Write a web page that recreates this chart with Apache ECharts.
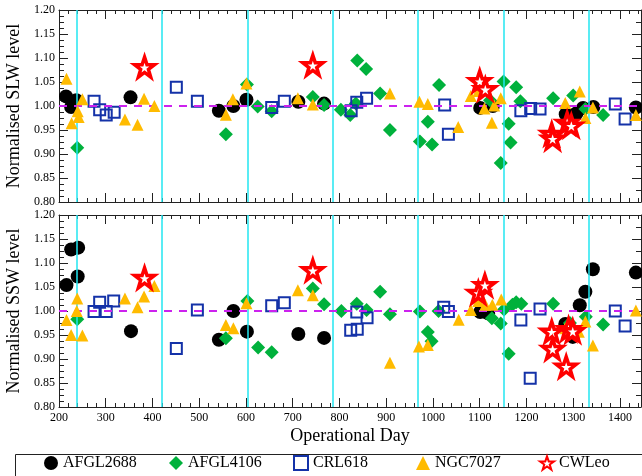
<!DOCTYPE html>
<html><head><meta charset="utf-8">
<script src="https://cdn.jsdelivr.net/npm/echarts@6/dist/echarts.min.js"></script>
<style>html,body{margin:0;padding:0;background:#fff}#c{width:642px;height:476px}</style>
</head><body><div id="c"></div>
<script>
// ---------- data ----------
const sources = ['AFGL2688', 'AFGL4106', 'CRL618', 'NGC7027', 'CWLeo'];
const calibrationDays = [237, 420, 603, 785, 968, 1151, 1334];
const referenceLevel = 1.0;
const xRange = [200, 1445];
const yRange = [0.80, 1.20];

const slw_AFGL2688 = [[215,1.020],[226,0.998],[237,1.012],[353,1.018],[542,0.990],[573,1.000],[601,1.013],[712,1.009],[767,1.005],[1101,0.996],[1128,1.000],[1284,0.983],[1307,0.985],[1321,0.996],[1343,0.998],[1434,0.997]];
const slw_AFGL4106 = [[239,0.913],[557,0.941],[602,1.045],[625,0.999],[655,0.989],[743,1.019],[767,1.002],[803,0.992],[823,0.981],[835,1.005],[838,1.095],[857,1.077],[887,1.026],[908,0.950],[972,0.926],[989,0.967],[998,0.920],[1013,1.044],[1122,1.012],[1145,0.881],[1151,1.051],[1162,0.963],[1166,0.924],[1178,1.039],[1187,1.010],[1257,1.016],[1300,1.022],[1326,0.994],[1364,0.981]];
const slw_CRL618 = [[275,1.010],[287,0.992],[301,0.981],[318,0.987],[451,1.039],[496,1.010],[655,0.997],[682,1.010],[825,0.990],[837,1.008],[858,1.016],[1025,1.002],[1033,0.941],[1188,0.990],[1209,0.995],[1229,0.994],[1390,1.004],[1411,0.973]];
const slw_NGC7027 = [[216,1.057],[227,0.964],[240,0.989],[242,0.977],[250,1.014],[341,0.972],[368,0.961],[382,1.015],[404,1.000],[557,0.982],[572,1.014],[601,1.047],[711,1.016],[743,1.003],[908,1.026],[971,1.009],[989,1.004],[1054,0.956],[1081,1.021],[1097,1.031],[1110,0.995],[1126,0.965],[1131,1.001],[1145,1.016],[1283,1.006],[1314,1.030],[1326,0.975],[1342,0.997],[1434,0.981]];
const slw_CWLeo = [[383,1.081],[743,1.085],[1100,1.052],[1112,1.035],[1254,0.942],[1256,0.932],[1287,0.965],[1296,0.959]];

const ssw_AFGL2688 = [[216,1.054],[226,1.128],[240,1.072],[241,1.132],[354,0.958],[542,0.940],[573,1.000],[602,0.957],[712,0.952],[767,0.944],[1101,0.998],[1118,0.995],[1283,0.973],[1299,0.946],[1314,1.012],[1326,1.040],[1342,1.087],[1434,1.080]];
const ssw_AFGL4106 = [[239,0.983],[557,0.943],[603,1.021],[626,0.924],[655,0.914],[743,1.047],[767,1.014],[804,1.000],[837,1.015],[858,1.002],[887,1.040],[908,0.993],[972,0.999],[989,0.956],[997,0.937],[1012,1.000],[1126,0.985],[1145,0.974],[1152,1.003],[1162,0.911],[1170,1.013],[1178,1.018],[1189,1.015],[1257,1.015],[1293,0.975],[1327,0.988],[1364,0.972]];
const ssw_CRL618 = [[275,0.999],[287,1.018],[301,0.999],[317,1.021],[451,0.922],[496,1.002],[655,1.011],[682,1.017],[824,0.960],[838,0.962],[837,0.998],[859,0.986],[1023,1.008],[1033,0.999],[1188,0.981],[1208,0.860],[1229,1.004],[1390,1.000],[1411,0.969]];
const ssw_NGC7027 = [[216,0.981],[226,0.950],[238,1.000],[239,1.026],[250,0.949],[341,1.026],[368,1.008],[382,1.030],[404,1.052],[557,0.971],[573,0.964],[601,1.016],[711,1.043],[743,1.033],[908,0.892],[970,0.926],[989,0.929],[1055,0.982],[1081,1.002],[1097,1.021],[1112,1.013],[1127,1.013],[1146,1.024],[1283,0.964],[1312,0.957],[1326,0.978],[1342,0.928],[1434,1.001]];
const ssw_CWLeo = [[383,1.069],[743,1.085],[1097,1.038],[1111,1.054],[1254,0.957],[1256,0.921],[1285,0.884],[1290,0.962],[1299,0.958]];

const slwData = [slw_AFGL2688, slw_AFGL4106, slw_CRL618, slw_NGC7027, slw_CWLeo];
const sswData = [ssw_AFGL2688, ssw_AFGL4106, ssw_CRL618, ssw_NGC7027, ssw_CWLeo];

// ---------- styles ----------
const FONT = 'Liberation Serif';
const AX = '#222';
const STAR = 'path://M50,2 L61.8,36.2 L97.6,36.2 L68.6,57.5 L79.4,91.8 L50,70.6 L20.6,91.8 L31.4,57.5 L2.4,36.2 L38.2,36.2 Z';
const markStyles = [
  {symbol: 'circle', symbolSize: 14, itemStyle: {color: '#000', opacity: 1}},
  {symbol: 'diamond', symbolSize: 14, itemStyle: {color: '#00b13c', opacity: 1}},
  {symbol: 'rect', symbolSize: 11, itemStyle: {color: 'rgba(255,255,255,0)', borderColor: '#1432a8', borderWidth: 2, opacity: 1}},
  {symbol: 'triangle', symbolSize: 12, itemStyle: {color: '#ffbb00', opacity: 1}},
  {symbol: STAR, symbolSize: 20, itemStyle: {color: '#fff', borderColor: '#ff0000', borderWidth: 3.5, opacity: 1}}
];
const legendLefts = [44, 169, 293, 416, 539];

function xAxesFor(grid, withLabels) {
  const base = {type: 'value', gridIndex: grid, min: xRange[0], max: xRange[1], splitLine: {show: false}};
  const list = [];
  ['bottom', 'top'].forEach(pos => {
    const lab = withLabels && pos === 'bottom';
    list.push(Object.assign({}, base, {
      position: pos, interval: 20,
      axisLine: {show: true, onZero: false, lineStyle: {color: AX, width: 1}},
      axisTick: {show: true, inside: true, length: 4, lineStyle: {color: AX}},
      axisLabel: {show: lab, margin: 5, fontFamily: FONT, fontSize: 12, color: '#000',
        formatter: v => (v % 100 === 0 ? String(v) : '')},
      name: lab ? 'Operational Day' : '', nameLocation: 'middle', nameGap: 20,
      nameTextStyle: {fontFamily: FONT, fontSize: 18, color: '#000'}
    }));
    list.push(Object.assign({}, base, {
      position: pos, interval: 100,
      axisLine: {show: false, onZero: false},
      axisTick: {show: true, inside: true, length: 9, lineStyle: {color: AX}},
      axisLabel: {show: false}
    }));
  });
  return list;
}
function yAxesFor(grid, title) {
  const base = {type: 'value', gridIndex: grid, min: yRange[0], max: yRange[1], interval: 0.05, splitLine: {show: false}};
  return [
    Object.assign({}, base, {
      position: 'left',
      axisLine: {show: true, onZero: false, lineStyle: {color: AX, width: 1}},
      axisTick: {show: true, inside: true, length: 9, lineStyle: {color: AX}},
      minorTick: {show: true, splitNumber: 4, length: 5, lineStyle: {color: AX}},
      axisLabel: {margin: 4, fontFamily: FONT, fontSize: 12, color: '#000', formatter: v => v.toFixed(2)},
      name: title, nameLocation: 'middle', nameGap: 33,
      nameTextStyle: {fontFamily: FONT, fontSize: 18, color: '#000'}
    }),
    Object.assign({}, base, {
      position: 'right',
      axisLine: {show: true, onZero: false, lineStyle: {color: AX, width: 1}},
      axisTick: {show: true, inside: true, length: 9, lineStyle: {color: AX}},
      minorTick: {show: true, splitNumber: 2, length: 5, lineStyle: {color: AX}},
      axisLabel: {show: false}
    })
  ];
}

const xAxis = xAxesFor(0, false).concat(xAxesFor(1, true));
const yAxis = yAxesFor(0, 'Normalised SLW level').concat(yAxesFor(1, 'Normalised SSW level'));

function refSeries(xi, yi) {
  return {
    type: 'scatter', xAxisIndex: xi, yAxisIndex: yi, data: [], z: 1, silent: true,
    markLine: {
      silent: true, symbol: 'none', animation: false, label: {show: false},
      data: calibrationDays.map(d => ({xAxis: d, lineStyle: {color: '#22e6f0', width: 1.5, type: 'solid'}}))
        .concat([{yAxis: referenceLevel, lineStyle: {color: '#cc22ee', width: 2, type: [8, 7]}}])
    }
  };
}

const series = [refSeries(0, 0), refSeries(4, 2)];
[[slwData, 0, 0], [sswData, 4, 2]].forEach(([set, xi, yi]) => {
  set.forEach((d, i) => {
    series.push(Object.assign({
      name: sources[i], type: 'scatter', xAxisIndex: xi, yAxisIndex: yi, data: d, z: 2 + i,
      animation: false
    }, markStyles[i]));
  });
});

const legends = sources.map((s, i) => ({
  data: [s], left: legendLefts[i], top: 455, itemWidth: 14, itemHeight: 14, padding: 0,
  selectedMode: false,
  textStyle: {fontFamily: FONT, fontSize: 16, color: '#000'}
}));

const chart = echarts.init(document.getElementById('c'), null, {renderer: 'canvas'});
chart.setOption({
  animation: false,
  backgroundColor: '#fff',
  grid: [
    {left: 59, right: 1, top: 10, height: 192, outerBoundsMode: 'none'},
    {left: 59, right: 1, top: 215, height: 192, outerBoundsMode: 'none'}
  ],
  xAxis, yAxis, series,
  legend: legends,
  graphic: [{
    type: 'rect', left: 13, top: 452, silent: true,
    shape: {width: 627, height: 22},
    style: {fill: 'none', stroke: '#222', lineWidth: 1}
  }]
});
</script></body></html>
